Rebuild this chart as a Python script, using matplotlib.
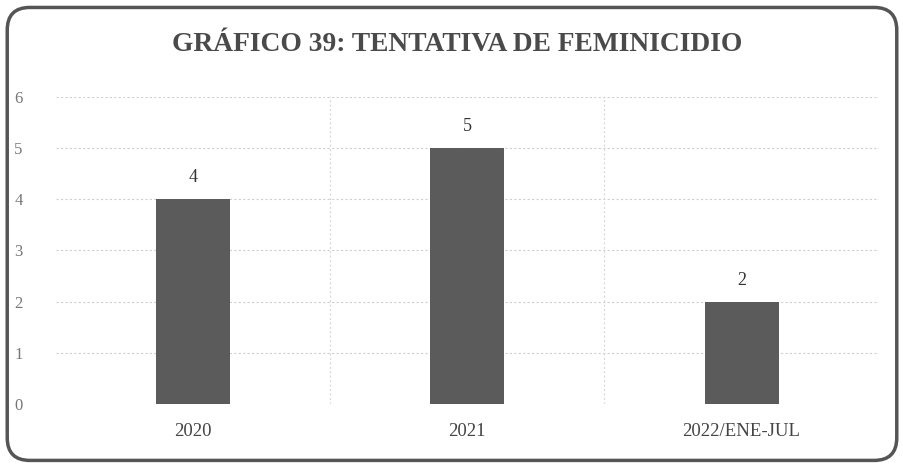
import matplotlib
matplotlib.use('Agg')

import matplotlib.pyplot as plt
from matplotlib.patches import FancyBboxPatch

# data
categories = ['2020', '2021', '2022/ENE-JUL']
values = [4, 5, 2]
yticks = [0, 1, 2, 3, 4, 5, 6]
title = 'GRÁFICO 39: TENTATIVA DE FEMINICIDIO'

plt.rcParams['font.family'] = ['Liberation Serif', 'DejaVu Serif']

fig = plt.figure(figsize=(9.04, 4.66), dpi=100)
fig.patch.set_facecolor('white')

# rounded frame around the whole chart
frame = FancyBboxPatch((0.008, 0.012), 0.984, 0.972,
                       boxstyle='round,pad=0,rounding_size=0.025',
                       transform=fig.transFigure, facecolor='none',
                       edgecolor='#555555', linewidth=2.5, mutation_aspect=904 / 466)
fig.patches.append(frame)

ax = fig.add_axes([0.062, 0.133, 0.910, 0.659])
x = range(len(categories))
bars = ax.bar(x, values, width=0.27, color='#5b5b5b', zorder=3)

for b, v in zip(bars, values):
    ax.text(b.get_x() + b.get_width() / 2, v + 0.25, str(v),
            ha='center', va='bottom', fontsize=13, color='#333333')

ax.set_xlim(-0.5, 2.5)
ax.set_ylim(0, 6)
ax.set_yticks(yticks)
ax.set_xticks(list(x))
ax.set_xticklabels(categories)

# horizontal grid at every unit, vertical separators between categories
for yv in yticks[1:]:
    ax.axhline(yv, color='#cfcfcf', linewidth=0.8, linestyle=(0, (2, 2)), zorder=1)
for xv in [0.5, 1.5]:
    ax.axvline(xv, color='#d8d8d8', linewidth=0.8, linestyle=(0, (2, 2)), zorder=1)

for s in ax.spines.values():
    s.set_visible(False)
ax.tick_params(axis='both', length=0)
ax.tick_params(axis='y', pad=24, labelsize=12, labelcolor='#777777')
ax.tick_params(axis='x', pad=14, labelsize=13.5, labelcolor='#444444')

fig.text(0.506, 0.905, title, ha='center', va='center', fontsize=19.8,
         fontweight='bold', color='#4a4a4a')

fig.savefig('out.png', dpi=100)
